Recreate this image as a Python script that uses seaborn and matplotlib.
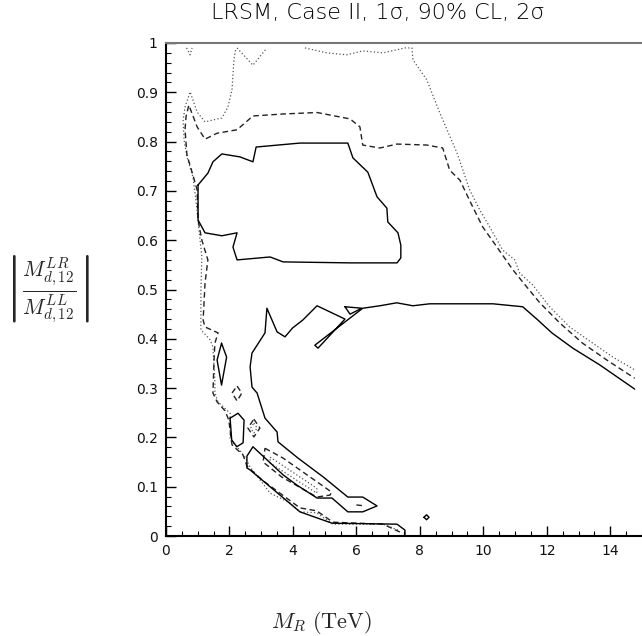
import numpy as np
import pandas as pd
import matplotlib
matplotlib.use("Agg")
import matplotlib.pyplot as plt
import seaborn as sns

# ---------------- data (x = M_R in TeV, y = |M^LR/M^LL|) ----------------
# 1 sigma (solid) contours
solid_main_x = [14.77, 13.67, 12.82, 12.16, 11.72, 11.24, 10.30, 9.26, 8.31, 7.78, 7.27, 6.74, 6.20,
                4.69, 4.79, 5.64, 4.76, 4.31, 3.99, 3.75, 3.50, 3.18, 3.12, 2.71, 2.65, 2.71, 2.87,
                3.12, 3.50, 3.53, 4.16, 4.95, 5.73, 6.20, 6.65, 6.20, 5.73, 5.23, 4.76, 4.13, 3.69,
                2.74, 2.55, 2.55, 2.65, 4.22, 5.23, 7.28, 7.53, 7.53]
solid_main_y = [0.298, 0.347, 0.381, 0.412, 0.438, 0.465, 0.471, 0.471, 0.471, 0.467, 0.473, 0.467, 0.462,
                0.387, 0.381, 0.440, 0.467, 0.438, 0.422, 0.404, 0.414, 0.462, 0.412, 0.371, 0.343, 0.302, 0.290,
                0.239, 0.211, 0.191, 0.158, 0.120, 0.079, 0.079, 0.061, 0.049, 0.049, 0.077, 0.077, 0.103, 0.124,
                0.181, 0.162, 0.138, 0.134, 0.049, 0.026, 0.024, 0.012, 0.000]
solid_box_x = [1.01, 1.32, 1.48, 1.76, 2.33, 2.74, 2.84, 4.22, 5.73, 5.89, 6.36, 6.65, 6.96, 6.99, 7.31,
               7.40, 7.40, 7.28, 5.80, 3.69, 3.28, 2.24, 2.11, 2.24, 1.76, 1.23, 1.01, 1.01]
solid_box_y = [0.712, 0.736, 0.759, 0.775, 0.769, 0.759, 0.789, 0.797, 0.797, 0.767, 0.738, 0.688, 0.665,
               0.637, 0.615, 0.590, 0.564, 0.554, 0.554, 0.556, 0.566, 0.560, 0.586, 0.615, 0.609, 0.615,
               0.641, 0.712]
solid_isl1_x = [1.75, 1.91, 1.75, 1.61, 1.75]
solid_isl1_y = [0.391, 0.363, 0.306, 0.357, 0.391]
solid_isl2_x = [2.02, 2.27, 2.46, 2.43, 2.23, 2.07, 2.02]
solid_isl2_y = [0.239, 0.249, 0.235, 0.189, 0.181, 0.195, 0.239]
solid_tri_x = [5.64, 6.17, 5.80, 5.64]
solid_tri_y = [0.465, 0.462, 0.450, 0.465]
solid_dot_x = [8.13, 8.21, 8.29, 8.21, 8.13]
solid_dot_y = [0.038, 0.043, 0.038, 0.033, 0.038]

# 90% CL (dashed) contours
dash_main_x = [7.37, 6.84, 5.26, 4.75, 4.22, 3.02, 2.55, 2.43, 2.08, 1.98, 1.86, 1.61, 1.48, 1.51, 1.54,
               1.64, 1.23, 1.17, 1.23, 1.32, 1.13, 1.01, 0.98, 0.85, 0.66, 0.60, 0.63, 0.72, 0.98, 1.23,
               1.61, 2.24, 2.74, 3.69, 4.76, 5.80, 6.11, 6.20, 6.74, 7.28, 8.22, 8.72, 8.94, 9.26, 9.67,
               9.98, 10.43, 10.93, 11.37, 11.78, 12.41, 13.13, 13.89, 14.77]
dash_main_y = [0.008, 0.024, 0.028, 0.051, 0.057, 0.114, 0.142, 0.164, 0.185, 0.235, 0.254, 0.272, 0.290,
               0.351, 0.391, 0.412, 0.424, 0.438, 0.513, 0.560, 0.600, 0.641, 0.702, 0.732, 0.773, 0.824,
               0.850, 0.874, 0.830, 0.805, 0.817, 0.824, 0.852, 0.856, 0.859, 0.846, 0.830, 0.793, 0.787,
               0.795, 0.793, 0.787, 0.742, 0.722, 0.667, 0.627, 0.586, 0.540, 0.505, 0.473, 0.432, 0.391,
               0.357, 0.320]
dash_dia1_x = [2.24, 2.39, 2.24, 2.08, 2.24]
dash_dia1_y = [0.304, 0.290, 0.274, 0.290, 0.304]
dash_dia2_x = [2.77, 2.96, 2.77, 2.58, 2.77]
dash_dia2_y = [0.237, 0.219, 0.201, 0.219, 0.237]
dash_band_x = [3.12, 3.69, 5.22, 5.17, 4.75, 3.64, 3.06, 3.12]
dash_band_y = [0.178, 0.158, 0.089, 0.083, 0.079, 0.120, 0.150, 0.178]
dash_tip_x = [6.00, 6.27]
dash_tip_y = [0.063, 0.061]

# 2 sigma (dotted) contours
dot_main_x = [7.31, 6.84, 5.26, 4.75, 4.22, 3.91, 3.28, 2.96, 2.65, 2.49, 2.24, 2.02, 2.02, 1.64, 1.54,
              1.54, 1.48, 1.39, 1.10, 1.10, 1.13, 1.04, 0.94, 0.85, 0.66, 0.57, 0.54, 0.60, 0.76, 0.98,
              1.23, 1.76, 1.95, 2.08, 2.14, 2.20]
dot_main_y = [0.012, 0.024, 0.024, 0.047, 0.049, 0.067, 0.087, 0.114, 0.140, 0.160, 0.181, 0.195, 0.249,
              0.272, 0.290, 0.316, 0.383, 0.398, 0.418, 0.499, 0.566, 0.621, 0.682, 0.728, 0.769, 0.803,
              0.844, 0.870, 0.901, 0.860, 0.840, 0.848, 0.870, 0.905, 0.966, 0.990]
dot_v_x = [2.24, 2.74, 3.18]
dot_v_y = [0.990, 0.955, 0.990]
dot_top_x = [4.38, 5.07, 5.70, 6.20, 6.84, 7.53, 7.75, 7.78, 8.22, 8.63, 9.17, 9.57, 9.89, 10.20, 10.61,
             10.99, 11.15, 11.56, 12.09, 12.72, 13.45, 14.08, 14.77]
dot_top_y = [0.990, 0.980, 0.976, 0.984, 0.980, 0.990, 0.990, 0.966, 0.925, 0.858, 0.777, 0.702, 0.661,
             0.627, 0.580, 0.560, 0.533, 0.509, 0.465, 0.424, 0.391, 0.363, 0.337]
dot_tl_x = [0.65, 0.76, 0.82]
dot_tl_y = [0.990, 0.976, 0.990]
dot_dia_x = [2.77, 2.87, 2.77, 2.67, 2.77]
dot_dia_y = [0.229, 0.219, 0.209, 0.219, 0.229]
dot_band_x = [3.28, 4.75, 4.75, 3.28, 3.28]
dot_band_y = [0.160, 0.097, 0.087, 0.148, 0.160]

x_ticks = [0, 2, 4, 6, 8, 10, 12, 14]
y_ticks = [0, 0.1, 0.2, 0.3, 0.4, 0.5, 0.6, 0.7, 0.8, 0.9, 1.0]
y_tick_labels = ["0", "0.1", "0.2", "0.3", "0.4", "0.5", "0.6", "0.7", "0.8", "0.9", "1"]

# ---------------- assemble ----------------
def frame(level, pieces):
    rows = []
    for i, (xs, ys) in enumerate(pieces):
        for a, b in zip(xs, ys):
            rows.append((a, b, f"{level}{i}", level))
    return pd.DataFrame(rows, columns=["x", "y", "seg", "level"])

df_solid = frame("s", [(solid_main_x, solid_main_y), (solid_box_x, solid_box_y),
                       (solid_isl1_x, solid_isl1_y), (solid_isl2_x, solid_isl2_y),
                       (solid_tri_x, solid_tri_y), (solid_dot_x, solid_dot_y)])
df_dash = frame("d", [(dash_main_x, dash_main_y), (dash_dia1_x, dash_dia1_y),
                      (dash_dia2_x, dash_dia2_y), (dash_band_x, dash_band_y),
                      (dash_tip_x, dash_tip_y)])
df_dot = frame("t", [(dot_main_x, dot_main_y), (dot_v_x, dot_v_y), (dot_top_x, dot_top_y),
                     (dot_tl_x, dot_tl_y), (dot_dia_x, dot_dia_y), (dot_band_x, dot_band_y)])

sns.set_theme(style="white")
plt.rcParams["font.family"] = ["DejaVu Sans"]
plt.rcParams["mathtext.fontset"] = "cm"

fig = plt.figure(figsize=(6.42, 6.36), dpi=100)
ax = fig.add_axes([166 / 642, 1 - 536 / 636, 476 / 642, 493 / 636])

sns.lineplot(data=df_dot, x="x", y="y", units="seg", estimator=None, sort=False, ax=ax,
             color="#555555", lw=0.9, linestyle=(0, (1, 1.8)), legend=False)
sns.lineplot(data=df_dash, x="x", y="y", units="seg", estimator=None, sort=False, ax=ax,
             color="#222222", lw=1.0, linestyle=(0, (4, 2.5)), legend=False)
sns.lineplot(data=df_solid, x="x", y="y", units="seg", estimator=None, sort=False, ax=ax,
             color="black", lw=1.0, linestyle="-", legend=False)

ax.set_xlim(0, 15)
ax.set_ylim(0, 1)
ax.set_xticks(x_ticks)
ax.set_xticks(np.arange(0, 15.01, 0.5), minor=True)
ax.set_yticks(y_ticks)
ax.set_yticklabels(y_tick_labels)
ax.set_yticks(np.arange(0, 1.001, 0.02), minor=True)
ax.tick_params(which="both", direction="in", top=False, right=False, bottom=True, left=True,
               colors="black", labelsize=10, pad=6)
ax.tick_params(which="major", length=7, width=1.0)
ax.tick_params(which="minor", length=3.5, width=0.8)
for lab in ax.get_xticklabels() + ax.get_yticklabels():
    lab.set_color("#111111")
ax.set_xlabel("")
ax.set_ylabel("")
ax.grid(False)
for side in ["left", "bottom"]:
    ax.spines[side].set_color("black")
    ax.spines[side].set_linewidth(1.5)
ax.spines["top"].set_color("#777777")
ax.spines["top"].set_linewidth(1.5)
ax.spines["right"].set_visible(False)

fig.text(378 / 642, 1 - 13 / 636, "LRSM, Case II, 1σ, 90% CL, 2σ", ha="center", va="center",
         fontsize=16, color="black", fontweight="light")
fig.text(47 / 642, 1 - 289 / 636, r"$\left|\frac{M^{LR}_{d,12}}{M^{LL}_{d,12}}\right|$",
         ha="center", va="center", fontsize=22)
fig.text(321 / 642, 1 - 623 / 636, r"$M_R\ \mathrm{(TeV)}$", ha="center", va="center", fontsize=16)

fig.savefig("out.png", dpi=100)
